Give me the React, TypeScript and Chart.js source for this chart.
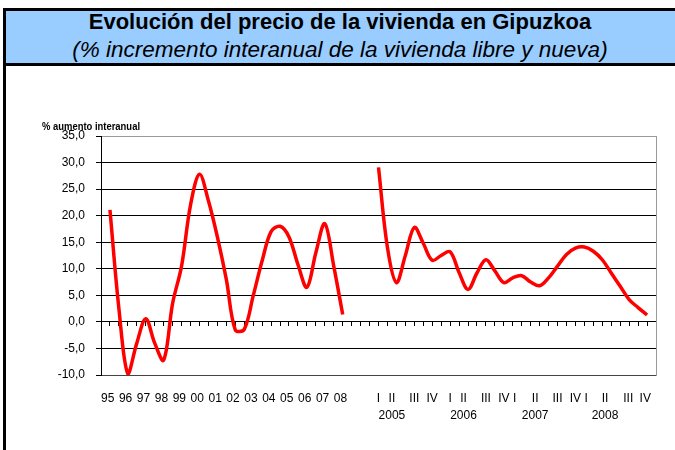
import React, { useEffect, useRef } from 'react';
import { Chart, registerables } from 'chart.js';

Chart.register(...registerables);

const TITLE = 'Evolución del precio de la vivienda en Gipuzkoa';
const SUBTITLE = '(% incremento interanual de la vivienda libre y nueva)';
const Y_TITLE = '% aumento interanual';

// Category slots of the horizontal axis (two slots per year on the left, two per quarter on the right)
const N_CATS = 63;
const CATEGORIES = Array.from({ length: N_CATS }, (_, i) => String(i));

// 1995 .. 2008, half-year steps (starts at slot 1)
const ANNUAL_START = 1;
const ANNUAL_VALUES = [
  21.1, 2.5, -9.8, -4.0, 0.6, -4.0, -7.2, 3.5, 10.5, 22.0, 27.8, 22.8, 16.0, 8.0,
  -1.5, -1.4, 4.9, 11.5, 17.0, 18.0, 16.0, 10.8, 6.5, 13.0, 18.5, 10.5, 1.4,
];

// 2005 I .. 2008 IV, half-quarter steps (starts at slot 31)
const QUARTER_START = 31;
const QUARTER_VALUES = [
  29.1, 14.0, 7.4, 12.5, 17.8, 14.8, 11.6, 12.5, 13.2, 9.3, 6.1, 9.2, 11.7, 9.6, 7.4,
  8.3, 8.7, 7.5, 6.8, 8.3, 10.5, 12.7, 13.9, 14.1, 13.3, 11.7, 9.2, 6.7, 4.2, 2.7, 1.3,
];

// Tick labels
const YEAR_LABELS = ['95', '96', '97', '98', '99', '00', '01', '02', '03', '04', '05', '06', '07', '08'];
const QUARTER_LABELS = ['I', 'II', 'III', 'IV', 'I', 'II', 'III', 'IV', 'I', 'II', 'III', 'IV', 'I', 'II', 'III', 'IV'];
const QUARTER_POS = [31, 32.5, 35, 37, 39, 40.5, 43, 45, 46.2, 48.5, 51, 53, 54.2, 56.3, 58.9, 60.8];
const QUARTER_YEARS = ['2005', '2006', '2007', '2008'];

const Y_MIN = -10;
const Y_MAX = 35;
const Y_STEP = 5;

const NARROW = '"Liberation Sans Narrow", "Arial Narrow", "Liberation Sans", Arial, sans-serif';
const SANS = '"Liberation Sans", Arial, sans-serif';

function pad(values: number[], start: number): (number | null)[] {
  const arr: (number | null)[] = new Array(N_CATS).fill(null);
  values.forEach((v, i) => {
    arr[start + i] = v;
  });
  return arr;
}

type LabelTick = { pos: number; label: string | string[] };

const X_LABEL_TICKS: LabelTick[] = [
  ...YEAR_LABELS.map((label, k) => ({ pos: ANNUAL_START + 2 * k - 0.25, label })),
  ...QUARTER_LABELS.map((label, j) => ({
    pos: QUARTER_POS[j],
    label: j % 4 === 1 ? [label, QUARTER_YEARS[Math.floor(j / 4)]] : label,
  })),
];

const yTitlePlugin = {
  id: 'yTitle',
  afterDraw(chart: any) {
    const { ctx, chartArea } = chart;
    ctx.save();
    ctx.font = `bold 11.5px ${NARROW}`;
    ctx.fillStyle = '#000';
    ctx.textAlign = 'left';
    ctx.textBaseline = 'alphabetic';
    const w = ctx.measureText(Y_TITLE).width;
    const target = 98;
    const sx = w > target ? target / w : 1;
    const x0 = chartArea.left - 59;
    const y0 = chartArea.top - 6;
    ctx.translate(x0, y0);
    ctx.scale(sx, 1);
    ctx.fillText(Y_TITLE, 0, 0);
    ctx.restore();
  },
};

export default function App() {
  const canvasRef = useRef<HTMLCanvasElement | null>(null);

  useEffect(() => {
    if (!canvasRef.current) return;
    const chart = new Chart(canvasRef.current, {
      type: 'line',
      data: {
        labels: CATEGORIES,
        datasets: [
          {
            label: 'Anual',
            data: pad(ANNUAL_VALUES, ANNUAL_START),
            borderColor: '#FF0000',
            borderWidth: 3.5,
            pointRadius: 0,
            tension: 0.35,
            fill: false,
            xAxisID: 'x',
            yAxisID: 'y',
          },
          {
            label: 'Trimestral',
            data: pad(QUARTER_VALUES, QUARTER_START),
            borderColor: '#FF0000',
            borderWidth: 3.5,
            pointRadius: 0,
            tension: 0.35,
            fill: false,
            xAxisID: 'x',
            yAxisID: 'y',
          },
        ],
      },
      options: {
        responsive: false,
        animation: false,
        layout: { padding: { top: 70, right: 19, left: 0, bottom: 0 } },
        plugins: {
          legend: { display: false },
          tooltip: { enabled: false },
          title: { display: false },
        },
        scales: {
          x: {
            type: 'category',
            axis: 'x',
            position: { y: 0 },
            offset: false,
            grid: {
              drawOnChartArea: false,
              drawTicks: true,
              tickLength: 4,
              tickColor: '#000',
              offset: false,
            },
            border: { display: true, color: '#000', width: 1 },
            ticks: { display: false },
          } as any,
          xLab: {
            type: 'linear',
            axis: 'x',
            position: 'bottom',
            min: 0,
            max: N_CATS - 1,
            grid: { display: false, drawTicks: false },
            border: { display: false },
            ticks: {
              autoSkip: false,
              maxRotation: 0,
              minRotation: 0,
              padding: 15,
              color: '#000',
              font: { family: NARROW, size: 12, lineHeight: 1.45 },
              callback: (_v: any, i: number) => (X_LABEL_TICKS[i] ? X_LABEL_TICKS[i].label : ''),
            },
            afterBuildTicks: (s: any) => {
              s.ticks = X_LABEL_TICKS.map((t) => ({ value: t.pos }));
            },
            afterFit: (s: any) => {
              s.height = 75;
            },
          } as any,
          y: {
            type: 'linear',
            position: 'left',
            min: Y_MIN,
            max: Y_MAX,
            ticks: {
              stepSize: Y_STEP,
              padding: 11,
              color: '#000',
              font: { family: NARROW, size: 12 },
              callback: (v: any) => Number(v).toFixed(1).replace('.', ','),
            },
            grid: {
              color: (ctx: any) =>
                ctx.tick && ctx.tick.value === Y_MAX ? '#9a9a9a' : ctx.tick && ctx.tick.value === Y_MIN ? '#444' : '#000',
              lineWidth: 1,
              drawTicks: true,
              tickLength: 5,
              tickColor: '#000',
            },
            border: { display: true, color: '#000', width: 1 },
            afterFit: (s: any) => {
              s.width = 101;
            },
          },
          y2: {
            type: 'linear',
            position: 'right',
            min: Y_MIN,
            max: Y_MAX,
            ticks: { display: false },
            grid: { display: false, drawTicks: false },
            border: { display: true, color: '#9a9a9a', width: 1 },
            afterFit: (s: any) => {
              s.width = 0;
            },
          },
        },
      },
      plugins: [yTitlePlugin],
    });
    return () => chart.destroy();
  }, []);

  return (
    <div style={{ position: 'absolute', left: 0, top: 0, width: 675, height: 450, overflow: 'hidden', background: '#fff' }}>
      <div
        style={{
          position: 'absolute',
          left: 3,
          top: 8,
          width: 720,
          height: 58,
          boxSizing: 'border-box',
          background: '#99CCFF',
          border: '3px solid #000',
        }}
      />
      <div
        style={{
          position: 'absolute',
          left: 3,
          top: 66,
          width: 720,
          height: 420,
          boxSizing: 'border-box',
          borderLeft: '3px solid #000',
        }}
      />
      <div
        style={{
          position: 'absolute',
          left: 0,
          top: 9,
          width: 680,
          textAlign: 'center',
          fontFamily: SANS,
          fontWeight: 'bold',
          fontSize: 22,
          lineHeight: '25px',
          color: '#000',
          whiteSpace: 'nowrap',
        }}
      >
        {TITLE}
      </div>
      <div
        style={{
          position: 'absolute',
          left: 0,
          top: 36,
          width: 680,
          textAlign: 'center',
          fontFamily: SANS,
          fontStyle: 'italic',
          fontSize: 22.5,
          lineHeight: '27px',
          color: '#000',
          whiteSpace: 'nowrap',
        }}
      >
        {SUBTITLE}
      </div>
      <canvas
        ref={canvasRef}
        width={675}
        height={384}
        style={{ position: 'absolute', left: 0, top: 66, width: 675, height: 384, display: 'block' }}
      />
    </div>
  );
}
